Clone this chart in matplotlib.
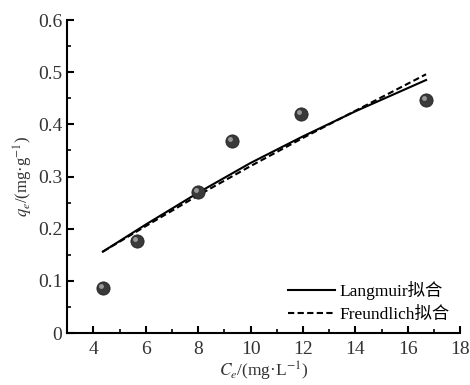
import matplotlib
matplotlib.use("Agg")
import matplotlib.pyplot as plt
import matplotlib.transforms as mtransforms
from matplotlib.ticker import MultipleLocator

plt.rcParams['font.family'] = ['Liberation Serif', 'Noto Sans CJK SC']
plt.rcParams['mathtext.fontset'] = 'stix'

# experimental points
ce = [4.36, 5.68, 8.01, 9.29, 11.92, 16.70]
qe = [0.086, 0.176, 0.270, 0.368, 0.419, 0.446]

# fitted curves
c_fit = [4.36, 6, 8, 10, 12, 14, 16.7]
q_lang = [0.156, 0.208, 0.269, 0.326, 0.377, 0.425, 0.485]
q_freu = [0.156, 0.205, 0.264, 0.320, 0.374, 0.426, 0.496]

fig = plt.figure(figsize=(4.7, 3.85), dpi=100)
ax = fig.add_axes([0.143, 0.135, 0.836, 0.813])

ax.plot(c_fit, q_lang, '-', color='black', lw=1.5, label='Langmuir拟合')
ax.plot(c_fit, q_freu, '--', color='black', lw=1.5, dashes=(3, 1.6), label='Freundlich拟合')

# sphere-like markers: dark ball plus small highlight
ax.plot(ce, qe, 'o', ms=9.5, mfc='#3a3a3a', mec='#222222', mew=0.6, zorder=5)
off = mtransforms.ScaledTranslation(-1.5 / 72, 1.5 / 72, fig.dpi_scale_trans)
ax.plot(ce, qe, 'o', ms=3.5, mfc='#b0b0b0', mec='none', alpha=0.8,
        transform=ax.transData + off, zorder=6)

ax.set_xlim(3, 18)
ax.set_ylim(0, 0.6)
ax.xaxis.set_major_locator(MultipleLocator(2))
ax.xaxis.set_minor_locator(MultipleLocator(1))
ax.yaxis.set_minor_locator(MultipleLocator(0.05))
ax.set_yticks([0, 0.1, 0.2, 0.3, 0.4, 0.5, 0.6])
ax.set_yticklabels(['0', '0.1', '0.2', '0.3', '0.4', '0.5', '0.6'])

for s in ['top', 'right']:
    ax.spines[s].set_visible(False)
for s in ['left', 'bottom']:
    ax.spines[s].set_linewidth(1.5)
ax.tick_params(which='major', direction='in', length=5, width=1.5, labelsize=14,
               labelcolor='#333333')
ax.tick_params(axis='x', which='major', pad=6)
ax.tick_params(which='minor', direction='in', length=3, width=1.2)

ax.set_xlabel('$C_e$/(mg·L$^{-1}$)', fontsize=12.5, labelpad=1, color='#333333')
ax.set_ylabel('$q_e$/(mg·g$^{-1}$)', fontsize=12, labelpad=2, color='#333333')

ax.legend(loc='lower right', frameon=False, fontsize=12.5, handlelength=2.7,
          handletextpad=0.25, labelspacing=0.35, borderaxespad=0.2)

fig.savefig('out.png', dpi=100)
